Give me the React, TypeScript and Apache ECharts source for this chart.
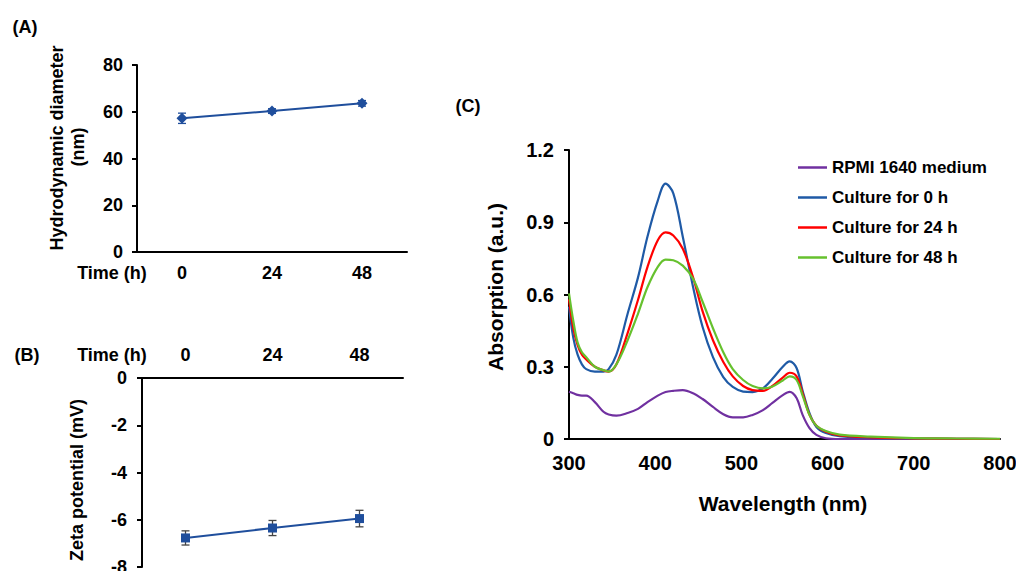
import React, { useEffect, useRef } from 'react';
import * as echarts from 'echarts';

// ---------- Data ----------
const timeLabels = ['0', '24', '48'];
const diameter = [57.2, 60.3, 63.6];
const diameterErr = [2.2, 1.0, 1.2];
const zeta = [-6.77, -6.35, -5.95];
const zetaErr = [0.3, 0.32, 0.35];

const wavelengths = [300, 305, 310, 315, 320, 330, 340, 346, 355, 368, 380, 391, 403, 412, 421, 432, 444, 455, 467, 479, 490, 502, 513, 525, 536, 548, 556, 564, 571, 579, 587, 598, 614, 650, 700, 750, 800];
const rpmi = [0.196, 0.19, 0.183, 0.18, 0.18, 0.153, 0.113, 0.102, 0.097, 0.108, 0.125, 0.153, 0.18, 0.195, 0.2, 0.203, 0.19, 0.166, 0.133, 0.103, 0.09, 0.09, 0.1, 0.12, 0.15, 0.182, 0.196, 0.17, 0.1, 0.045, 0.017, 0.003, 0, 0, 0, 0, 0];
const culture0 = [0.55, 0.42, 0.35, 0.31, 0.29, 0.28, 0.28, 0.29, 0.35, 0.52, 0.67, 0.84, 0.99, 1.06, 1.02, 0.84, 0.63, 0.465, 0.34, 0.257, 0.216, 0.197, 0.195, 0.21, 0.25, 0.3, 0.322, 0.295, 0.2, 0.107, 0.05, 0.025, 0.012, 0.005, 0.002, 0.001, 0];
const culture24 = [0.58, 0.46, 0.39, 0.35, 0.33, 0.3, 0.285, 0.28, 0.31, 0.44, 0.577, 0.714, 0.825, 0.858, 0.845, 0.79, 0.67, 0.53, 0.41, 0.32, 0.26, 0.22, 0.203, 0.2, 0.22, 0.255, 0.275, 0.26, 0.19, 0.1, 0.055, 0.03, 0.015, 0.007, 0.003, 0.001, 0];
const culture48 = [0.605, 0.49, 0.4, 0.36, 0.34, 0.3, 0.286, 0.28, 0.31, 0.41, 0.52, 0.63, 0.715, 0.745, 0.742, 0.72, 0.665, 0.57, 0.46, 0.36, 0.29, 0.245, 0.22, 0.21, 0.218, 0.243, 0.26, 0.245, 0.18, 0.1, 0.055, 0.033, 0.018, 0.01, 0.004, 0.002, 0.001];
const seriesNames = ['RPMI 1640 medium', 'Culture for 0 h', 'Culture for 24 h', 'Culture for 48 h'];
const spectra = [rpmi, culture0, culture24, culture48];
const spectraColors = ['#7030a0', '#1f5aa6', '#ff0000', '#66c12e'];

const FONT = 'Arial, "Liberation Sans", Helvetica, sans-serif';

function errorBarSeries(values: number[], errs: number[], xIndex: number, color: string) {
  return {
    type: 'custom',
    xAxisIndex: xIndex,
    yAxisIndex: xIndex,
    z: 2,
    data: values.map((v, i) => [i, v - errs[i], v + errs[i]]),
    renderItem: (params: any, api: any) => {
      const i = api.value(0);
      const lo = api.coord([i, api.value(1)]);
      const hi = api.coord([i, api.value(2)]);
      const w = 4;
      const st = { stroke: color, lineWidth: 1.3 };
      return {
        type: 'group',
        children: [
          { type: 'line', shape: { x1: lo[0], y1: lo[1], x2: hi[0], y2: hi[1] }, style: st },
          { type: 'line', shape: { x1: lo[0] - w, y1: lo[1], x2: lo[0] + w, y2: lo[1] }, style: st },
          { type: 'line', shape: { x1: hi[0] - w, y1: hi[1], x2: hi[0] + w, y2: hi[1] }, style: st },
        ],
      };
    },
  };
}

const axisLine = { show: true, onZero: false, lineStyle: { color: '#000', width: 2 } };
const labelStyle = (size: number, margin: number) => ({
  fontSize: size,
  fontWeight: 'bold',
  fontFamily: FONT,
  color: '#000',
  margin,
});

function txt(text: string, x: number, y: number, size: number, rotate = false) {
  return {
    type: 'text',
    x,
    y,
    rotation: rotate ? Math.PI / 2 : 0,
    style: {
      text,
      fill: '#000',
      font: `bold ${size}px ${FONT}`,
      align: 'center',
      verticalAlign: 'middle',
    },
  };
}

export default function App() {
  const ref = useRef<HTMLDivElement>(null);
  useEffect(() => {
    if (!ref.current) return;
    const chart = echarts.init(ref.current, undefined, { renderer: 'svg' });
    const option: any = {
      animation: false,
      backgroundColor: '#fff',
      grid: [
        { left: 137, top: 65, width: 270, height: 187, outerBoundsMode: 'none', containLabel: false },
        { left: 142, top: 378, width: 261, height: 189, outerBoundsMode: 'none', containLabel: false },
        { left: 569, top: 150, width: 431, height: 289, outerBoundsMode: 'none', containLabel: false },
      ],
      xAxis: [
        {
          gridIndex: 0, type: 'category', data: timeLabels, boundaryGap: true,
          axisLine, axisTick: { show: false }, axisLabel: labelStyle(18, 12), splitLine: { show: false },
        },
        {
          gridIndex: 1, type: 'category', data: timeLabels, boundaryGap: true, position: 'top',
          axisLine, axisTick: { show: false }, axisLabel: labelStyle(18, 14), splitLine: { show: false },
        },
        {
          gridIndex: 2, type: 'value', min: 300, max: 800, interval: 100,
          axisLine, axisTick: { show: false }, axisLabel: labelStyle(20, 14), splitLine: { show: false },
        },
      ],
      yAxis: [
        {
          gridIndex: 0, type: 'value', min: 0, max: 80, interval: 20,
          axisLine, axisTick: { show: true, length: 5, lineStyle: { color: '#000', width: 2 } },
          axisLabel: labelStyle(18, 14), splitLine: { show: false },
        },
        {
          gridIndex: 1, type: 'value', min: -8, max: 0, interval: 2,
          axisLine, axisTick: { show: true, length: 5, lineStyle: { color: '#000', width: 2 } },
          axisLabel: labelStyle(18, 15), splitLine: { show: false },
        },
        {
          gridIndex: 2, type: 'value', min: 0, max: 1.2, interval: 0.3,
          axisLine, axisTick: { show: true, length: 5, lineStyle: { color: '#000', width: 2 } },
          axisLabel: labelStyle(20, 15), splitLine: { show: false },
        },
      ],
      legend: {
        data: seriesNames,
        orient: 'vertical',
        left: 793,
        top: 154,
        icon: 'rect',
        itemWidth: 29,
        itemHeight: 2.5,
        itemGap: 13,
        textStyle: { fontSize: 17, fontWeight: 'bold', fontFamily: FONT, color: '#000', lineHeight: 17 },
      },
      series: [
        errorBarSeries(diameter, diameterErr, 0, '#1f4e9c'),
        {
          type: 'line', xAxisIndex: 0, yAxisIndex: 0, data: diameter, z: 3,
          symbol: 'diamond', symbolSize: 11, color: '#1f4e9c',
          lineStyle: { width: 2, color: '#1f4e9c' }, itemStyle: { color: '#1f4e9c' },
        },
        errorBarSeries(zeta, zetaErr, 1, '#444'),
        {
          type: 'line', xAxisIndex: 1, yAxisIndex: 1, data: zeta, z: 3,
          symbol: 'rect', symbolSize: 9, color: '#1f4e9c',
          lineStyle: { width: 2, color: '#1f4e9c' }, itemStyle: { color: '#1f4e9c' },
        },
        ...spectra.map((vals, k) => ({
          name: seriesNames[k],
          type: 'line',
          xAxisIndex: 2,
          yAxisIndex: 2,
          data: wavelengths.map((w, i) => [w, vals[i]]),
          smooth: 0.35,
          symbol: 'none',
          color: spectraColors[k],
          lineStyle: { width: 2.2, color: spectraColors[k] },
          clip: true,
        })),
      ],
      graphic: [
        txt('(A)', 25, 27, 18),
        txt('(B)', 27, 355, 18),
        txt('(C)', 468, 106, 18),
        txt('Time (h)', 112, 273, 18),
        txt('Time (h)', 112, 355, 18),
        txt('Hydrodynamic diameter', 57, 148, 18, true),
        txt('(nm)', 78, 147, 18, true),
        txt('Zeta potential (mV)', 77, 480, 18, true),
        txt('Absorption (a.u.)', 495, 287, 21, true),
        txt('Wavelength (nm)', 783, 503, 21),
      ],
    };
    chart.setOption(option);
    return () => chart.dispose();
  }, []);
  return (
    <div
      ref={ref}
      style={{ position: 'fixed', left: 0, top: 0, width: 1016, height: 571, background: '#fff' }}
    />
  );
}
